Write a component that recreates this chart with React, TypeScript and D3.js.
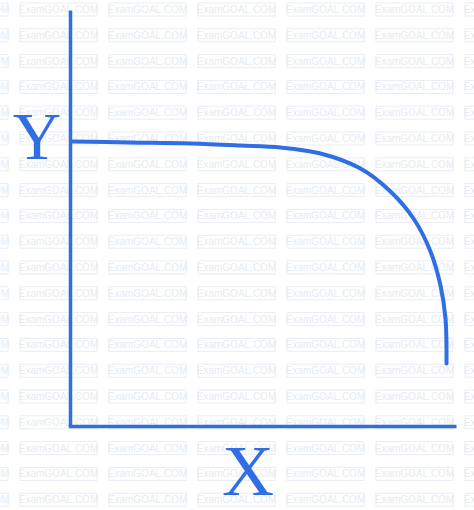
import { useEffect, useRef } from 'react';
import * as d3 from 'd3';

const curveX = [2, 60, 120, 170, 210, 250, 290, 320, 343, 360, 370, 375, 376];
const curveY = [285, 284, 283, 281, 279, 273, 258, 235, 208, 175, 141, 108, 63];

const xLabel = 'X';
const yLabel = 'Y';
const watermark = 'ExamGOAL.COM';

const width = 474;
const height = 510;
const blue = '#2f6fe3';

export default function App() {
  const svgRef = useRef<SVGSVGElement>(null);

  useEffect(() => {
    if (!svgRef.current) return;
    const svg = d3.select(svgRef.current);
    svg.selectAll('*').remove();

    // Watermark tiles
    const wm = svg.append('g');
    const cols = d3.range(-1, 6);
    const rows = d3.range(0, 20);
    rows.forEach((r) => {
      cols.forEach((c) => {
        const x0 = 20 + c * 89;
        const y0 = 3 + r * 25.8;
        wm.append('rect')
          .attr('x', x0)
          .attr('y', y0)
          .attr('width', 77)
          .attr('height', 13)
          .attr('fill', 'none')
          .attr('stroke', '#e9edf5')
          .attr('stroke-width', 1);
        wm.append('text')
          .attr('x', x0 + 38.5)
          .attr('y', y0 + 10)
          .attr('text-anchor', 'middle')
          .attr('font-family', 'Liberation Sans, Arial, sans-serif')
          .attr('font-size', '10px')
          .attr('fill', '#e6ebf4')
          .text(watermark);
      });
    });

    const xScale = d3.scaleLinear().domain([0, 386]).range([70.5, 456.5]);
    const yScale = d3.scaleLinear().domain([0, 416]).range([426.5, 10.5]);

    // Axes
    svg.append('line')
      .attr('x1', xScale(0)).attr('y1', yScale(0))
      .attr('x2', xScale(0)).attr('y2', yScale(416))
      .attr('stroke', blue).attr('stroke-width', 3.5);
    svg.append('line')
      .attr('x1', xScale(0) - 1.75).attr('y1', yScale(0))
      .attr('x2', xScale(386)).attr('y2', yScale(0))
      .attr('stroke', blue).attr('stroke-width', 3.5);

    // Curve
    const pts = curveX.map((x, i) => [x, curveY[i]] as [number, number]);
    const line = d3.line<[number, number]>()
      .x((d) => xScale(d[0]))
      .y((d) => yScale(d[1]))
      .curve(d3.curveCatmullRom.alpha(0.5));
    svg.append('path')
      .datum(pts)
      .attr('d', line)
      .attr('fill', 'none')
      .attr('stroke', blue)
      .attr('stroke-width', 4)
      .attr('stroke-linecap', 'round');

    // Axis labels
    svg.append('text')
      .attr('x', 37).attr('y', 159)
      .attr('text-anchor', 'middle')
      .attr('font-family', 'Liberation Serif, Times New Roman, serif')
      .attr('font-size', '67px')
      .attr('fill', blue)
      .text(yLabel);
    svg.append('text')
      .attr('x', 248).attr('y', 495)
      .attr('text-anchor', 'middle')
      .attr('font-family', 'Liberation Serif, Times New Roman, serif')
      .attr('font-size', '72px')
      .attr('fill', blue)
      .text(xLabel);
  }, []);

  return (
    <svg
      ref={svgRef}
      width={width}
      height={height}
      style={{ position: 'absolute', left: 0, top: 0, background: '#fff' }}
    />
  );
}
